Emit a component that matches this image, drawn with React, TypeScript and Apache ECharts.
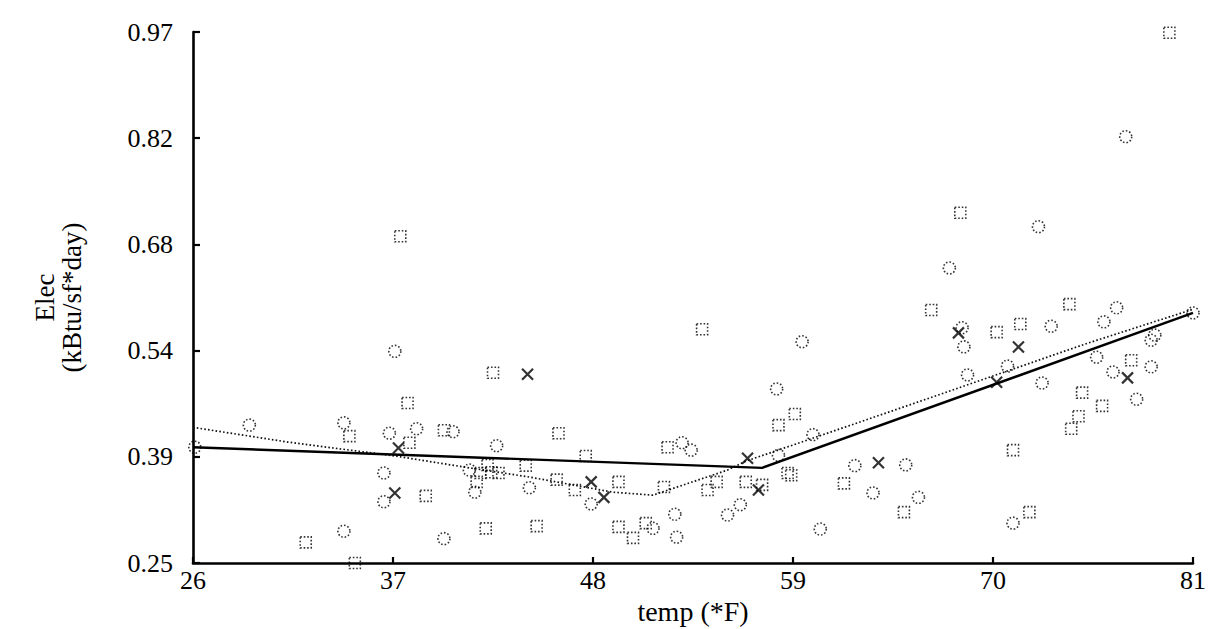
import React, { useEffect, useRef } from "react";
import * as echarts from "echarts";

// Axis ticks
const xTicks = [26, 37, 48, 59, 70, 81];
const yTicks = [0.25, 0.394, 0.538, 0.682, 0.826, 0.97];
const yTickLabels = ["0.25", "0.39", "0.54", "0.68", "0.82", "0.97"];

// Observations plotted with dotted circles: [temp, elec]
const circlePoints: number[][] = [
  [26.1, 0.407], [29.1, 0.437], [34.3, 0.44], [36.8, 0.426], [38.3, 0.432],
  [40.3, 0.428], [41.2, 0.376], [36.5, 0.372], [36.5, 0.333], [34.3, 0.293],
  [39.8, 0.283], [41.5, 0.346], [42.7, 0.409], [44.5, 0.352], [47.9, 0.33],
  [51.3, 0.297], [52.5, 0.316], [52.6, 0.285], [52.9, 0.413], [53.4, 0.403],
  [59.5, 0.55], [58.1, 0.486], [58.2, 0.396], [56.1, 0.329], [55.4, 0.315],
  [60.1, 0.424], [62.4, 0.382], [63.4, 0.345], [65.2, 0.383], [60.5, 0.296],
  [72.5, 0.706], [67.6, 0.65], [68.3, 0.569], [68.4, 0.543], [73.2, 0.571],
  [76.8, 0.596], [76.1, 0.577], [70.8, 0.517], [68.6, 0.505], [72.7, 0.494],
  [75.7, 0.529], [78.9, 0.559], [78.7, 0.552], [81.0, 0.589], [76.6, 0.509],
  [78.7, 0.516], [77.9, 0.472], [65.9, 0.339], [71.1, 0.304], [77.3, 0.828],
  [37.1, 0.537],
];

// Observations plotted with dotted squares: [temp, elec]
const squarePoints: number[][] = [
  [34.6, 0.422], [37.8, 0.467], [37.9, 0.413], [39.8, 0.43], [38.8, 0.341],
  [32.2, 0.278], [34.9, 0.25], [42.1, 0.297], [41.8, 0.372], [42.4, 0.373],
  [41.6, 0.36], [42.5, 0.508], [46.1, 0.426], [47.6, 0.395], [42.2, 0.383],
  [42.8, 0.372], [44.3, 0.382], [46.0, 0.363], [47.0, 0.349], [49.4, 0.36],
  [51.9, 0.353], [44.9, 0.3], [49.4, 0.299], [50.2, 0.284], [50.9, 0.304],
  [52.1, 0.407], [54.0, 0.567], [59.1, 0.452], [58.2, 0.437], [58.7, 0.372],
  [56.4, 0.36], [57.3, 0.356], [54.8, 0.36], [54.3, 0.349], [58.9, 0.369],
  [61.8, 0.358], [65.1, 0.319], [68.2, 0.725], [66.6, 0.593], [70.2, 0.563],
  [71.5, 0.574], [74.2, 0.601], [77.6, 0.525], [74.9, 0.481], [76.0, 0.463],
  [74.7, 0.449], [74.3, 0.432], [71.1, 0.403], [72.0, 0.319], [79.7, 0.969],
  [37.4, 0.693],
];

// Observations plotted with crosses: [temp, elec]
const crossPoints: number[][] = [
  [37.3, 0.406], [37.1, 0.345], [44.4, 0.506], [47.9, 0.36], [48.6, 0.339],
  [56.5, 0.392], [57.1, 0.349], [63.7, 0.386], [68.1, 0.562], [71.4, 0.543],
  [70.2, 0.495], [77.4, 0.501],
];

// Change-point model (solid)
const solidFit: number[][] = [
  [26.0, 0.407], [56.2, 0.38], [57.3, 0.379], [81.0, 0.589],
];

// Alternative fit (dotted)
const dottedFit: number[][] = [
  [26.0, 0.434], [31.2, 0.414], [35.9, 0.399], [37.4, 0.394], [41.2, 0.379],
  [44.4, 0.367], [49.1, 0.346], [51.3, 0.342], [55.4, 0.376], [56.4, 0.388],
  [64.9, 0.46], [75.2, 0.548], [81.0, 0.594],
];

const FONT = "'Liberation Serif', 'Times New Roman', serif";

export default function App() {
  const ref = useRef<HTMLDivElement>(null);

  useEffect(() => {
    if (!ref.current) return;
    const chart = echarts.init(ref.current, null, { renderer: "svg" });
    const dotted = {
      color: "rgba(0,0,0,0)",
      borderColor: "#000",
      borderWidth: 1.6,
      borderType: [1.6, 1.9] as any,
    };
    chart.setOption({
      animation: false,
      backgroundColor: "#fff",
      grid: { left: 193, right: 30, top: 32, bottom: 66, containLabel: false, outerBoundsMode: "none" },
      xAxis: {
        type: "value",
        min: 26,
        max: 81,
        name: "temp (*F)",
        nameLocation: "middle",
        nameGap: 34,
        nameTextStyle: { fontFamily: FONT, fontSize: 28, color: "#000" },
        axisLine: { show: true, lineStyle: { color: "#000", width: 2.6 } },
        axisTick: { show: true, inside: true, length: 6, lineStyle: { color: "#000", width: 2.2 }, customValues: xTicks },
        axisLabel: { customValues: xTicks, fontFamily: FONT, fontSize: 26, color: "#000", margin: 4 },
        splitLine: { show: false },
      },
      yAxis: {
        type: "value",
        min: 0.25,
        max: 0.97,
        name: "Elec\n(kBtu/sf*day)",
        nameLocation: "middle",
        nameRotate: 90,
        nameGap: 108,
        nameTextStyle: { fontFamily: FONT, fontSize: 27, color: "#000", lineHeight: 27 },
        axisLine: { show: true, lineStyle: { color: "#000", width: 2.6 } },
        axisTick: { show: true, inside: true, length: 7, lineStyle: { color: "#000", width: 2.2 }, customValues: yTicks },
        axisLabel: {
          customValues: yTicks,
          fontFamily: FONT,
          fontSize: 26,
          color: "#000",
          margin: 20,
          formatter: (v: number) => {
            let best = 0;
            yTicks.forEach((t, i) => {
              if (Math.abs(t - v) < Math.abs(yTicks[best] - v)) best = i;
            });
            return yTickLabels[best];
          },
        },
        splitLine: { show: false },
      },
      series: [
        {
          type: "line",
          data: dottedFit,
          symbol: "none",
          lineStyle: { color: "#111", width: 1.7, type: [1.6, 2.2] },
          z: 2,
        },
        {
          type: "line",
          data: solidFit,
          symbol: "none",
          lineStyle: { color: "#000", width: 2.4 },
          z: 3,
        },
        {
          type: "scatter",
          data: squarePoints,
          symbol: "rect",
          symbolSize: 11,
          clip: false,
          itemStyle: dotted,
          z: 4,
        },
        {
          type: "scatter",
          data: circlePoints,
          symbol: "circle",
          symbolSize: 12,
          clip: false,
          itemStyle: dotted,
          z: 4,
        },
        {
          type: "scatter",
          data: crossPoints,
          symbol: "path://M0 0L10 10M10 0L0 10",
          symbolSize: 11,
          clip: false,
          itemStyle: { color: "rgba(0,0,0,0)", borderColor: "#000", borderWidth: 2.2 },
          z: 5,
        },
      ],
    });
    return () => chart.dispose();
  }, []);

  return (
    <div
      ref={ref}
      style={{ position: "absolute", left: 0, top: 0, width: 1223, height: 629, background: "#fff" }}
    />
  );
}
